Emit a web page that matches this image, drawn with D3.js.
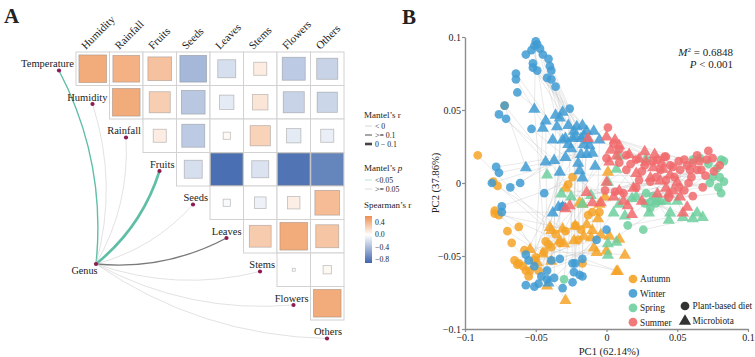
<!DOCTYPE html>
<html><head><meta charset="utf-8">
<script src="https://cdn.jsdelivr.net/npm/d3@7"></script>
<style>
body{margin:0;background:#fff}
svg{display:block}
text{font-family:"Liberation Serif","Times New Roman",serif;fill:#222}
</style>
</head><body>
<svg id="c" width="755" height="357"></svg>
<script>
// ---------------- DATA: panel A ----------------
const vars = ["Temperature","Humidity","Rainfall","Fruits","Seeds","Leaves","Stems","Flowers","Others"];
// Spearman's r, row i against columns i+1 .. 8
const corrTemperature = [0.45,0.42,0.33,-0.42,-0.19,0.10,-0.31,-0.26];
const corrHumidity    = [0.45,0.26,-0.33,-0.12,0.14,-0.26,-0.24];
const corrRainfall    = [0.10,-0.31,0.03,0.24,-0.12,-0.10];
const corrFruits      = [-0.19,-0.85,-0.17,-0.82,-0.72];
const corrSeeds       = [-0.03,-0.08,0.09,0.36];
const corrLeaves      = [0.28,0.45,0.31];
const corrStems       = [0.005,0.04];
const corrFlowers     = [0.45];
const corrRows = [corrTemperature,corrHumidity,corrRainfall,corrFruits,corrSeeds,corrLeaves,corrStems,corrFlowers];
// Mantel test classes for Genus -> each variable
const mantelRClass = ["mid","thin","thin","thick","thin","mid","thin","thin","thin"];
const mantelPClass = ["sig","ns","ns","sig","ns","dark","ns","ns","ns"];
const mantelRLabels = ["< 0",">= 0.1","0 \u2212 0.1"];
const mantelPLabels = ["<0.05",">= 0.05"];
const colorbarTicks = [0.4,0,-0.4,-0.8];

// ---------------- DATA: panel B ----------------
const seasons = ["Autumn","Winter","Spring","Summer"];
const shapes = ["Plant-based diet","Microbiota"];
const xTicksB = [-0.1,-0.05,0,0.05,0.1];
const yTicksB = [-0.1,-0.05,0,0.05,0.1];
const m2Value = "0.6848";
const pValue = "0.001";

const winterDiet = [[-0.050,0.097],[-0.051,0.094],[-0.049,0.095],[-0.053,0.091],[-0.047,0.092],[-0.057,0.088],[-0.045,0.088],[-0.041,0.085],[-0.052,0.082],[-0.052,0.079],[-0.040,0.080],[-0.039,0.077],[-0.049,0.077],[-0.042,0.072],[-0.039,0.071],[-0.036,0.066],[-0.064,0.075],[-0.064,0.071],[-0.063,0.062],[-0.072,0.053],[-0.076,0.047],[-0.071,0.044],[-0.053,0.037],[-0.026,0.051],[-0.078,0.011],[-0.076,0.007],[-0.081,0.000],[-0.068,-0.003],[-0.061,0.000],[-0.044,-0.007],[-0.074,-0.016],[-0.074,-0.020],[-0.031,-0.016],[-0.007,-0.039],[0.000,-0.032],[-0.057,-0.049],[-0.055,-0.053],[-0.051,-0.057],[-0.057,-0.070],[-0.051,-0.071],[-0.048,-0.069],[-0.046,-0.064],[-0.042,-0.060],[-0.042,-0.066],[-0.037,-0.065],[-0.039,-0.053],[-0.033,-0.052],[-0.024,-0.055],[-0.022,-0.055],[-0.019,-0.063],[-0.017,-0.064],[-0.017,-0.052],[-0.023,-0.061],[-0.031,-0.072],[-0.024,-0.068]];
const winterMicro = [[-0.051,0.051],[-0.043,0.043],[-0.036,0.047],[-0.031,0.049],[-0.033,0.045],[-0.027,0.040],[-0.023,0.036],[-0.021,0.039],[-0.017,0.040],[-0.014,0.036],[-0.022,0.032],[-0.018,0.031],[-0.013,0.030],[-0.016,0.027],[-0.024,0.031],[-0.029,0.031],[-0.031,0.030],[-0.038,0.030],[-0.035,0.039],[-0.057,0.011],[-0.037,0.016],[-0.043,0.015],[-0.029,0.018],[-0.025,0.024],[-0.018,0.020],[-0.014,0.020],[-0.010,0.021],[-0.012,0.026],[-0.009,0.036],[-0.019,0.009],[-0.017,0.004],[-0.038,-0.020],[-0.031,-0.016],[-0.005,0.030],[-0.041,-0.068],[-0.016,0.033],[-0.034,-0.016],[-0.045,0.038],[-0.027,0.027],[-0.020,0.014],[-0.008,0.012],[-0.033,0.008]];
const summerDiet = [[0.001,0.038],[0.041,0.018],[0.005,0.027],[0.009,0.023],[0.014,0.019],[0.021,0.016],[0.033,0.015],[0.042,0.018],[0.051,0.015],[0.057,0.012],[0.061,0.014],[0.066,0.015],[0.071,0.016],[0.075,0.017],[0.080,0.012],[0.067,0.009],[0.059,0.009],[0.052,0.009],[0.048,0.004],[0.042,0.002],[0.035,0.004],[0.031,0.001],[0.023,0.002],[0.021,-0.003],[0.051,-0.003],[0.055,-0.005],[0.061,-0.009],[0.068,-0.003],[0.064,0.009],[0.047,0.011],[0.014,0.009],[0.009,0.014],[0.000,0.017],[0.006,-0.006],[0.012,-0.007],[-0.001,-0.005],[0.072,0.022],[0.064,0.019],[0.027,0.012],[0.038,0.009],[0.045,0.012],[0.055,0.016],[0.060,0.004],[0.070,0.005],[0.076,0.008],[0.044,-0.010],[0.058,0.000],[0.036,0.016],[0.025,0.008],[0.017,0.013]];
const summerMicro = [[-0.013,0.031],[0.000,0.032],[0.006,0.030],[0.009,0.026],[0.003,0.023],[0.007,0.019],[0.016,0.020],[0.023,0.017],[0.028,0.015],[0.033,0.011],[0.039,0.014],[0.034,0.020],[0.021,0.007],[0.031,0.004],[0.038,0.002],[0.047,-0.005],[0.042,-0.003],[0.052,-0.009],[0.057,-0.016],[0.054,-0.020],[0.044,-0.007],[0.019,-0.003],[0.009,-0.005],[0.005,-0.009],[-0.004,-0.013],[-0.010,-0.013],[-0.014,-0.006],[-0.029,-0.017],[0.018,-0.021],[0.012,-0.012],[0.000,0.001],[0.002,0.015],[-0.026,-0.015],[0.027,0.022],[0.045,0.006],[0.050,0.001],[0.036,-0.007],[0.025,-0.012],[0.015,-0.015],[0.040,0.010]];
const springDiet = [[0.075,0.004],[0.080,0.004],[0.083,0.001],[0.073,0.000],[0.079,-0.003],[0.081,-0.007],[0.081,0.016],[0.083,0.015],[0.061,0.016],[0.066,0.017],[0.028,-0.007],[0.033,-0.009],[0.031,-0.013],[0.035,-0.014],[0.015,-0.029],[0.026,-0.032],[0.027,-0.014],[0.031,-0.017],[0.078,0.010],[0.072,0.013],[-0.030,-0.066]];
const springMicro = [[-0.042,0.006],[-0.032,-0.007],[-0.025,-0.009],[-0.017,-0.014],[0.001,0.001],[0.009,-0.014],[0.021,-0.009],[0.028,0.017],[0.038,-0.012],[0.042,-0.012],[0.045,-0.020],[0.044,-0.025],[0.054,-0.023],[0.061,-0.024],[0.064,-0.020],[0.068,-0.023],[0.009,0.019],[0.007,0.010],[0.001,-0.041],[-0.011,-0.008],[0.005,-0.020],[0.013,-0.022],[0.007,-0.040],[0.036,-0.012],[0.001,-0.049],[0.050,-0.012],[0.030,-0.020],[0.018,-0.010]];
const autumnDiet = [[-0.091,0.019],[-0.080,0.001],[-0.079,-0.019],[-0.079,-0.021],[-0.076,-0.022],[-0.070,-0.033],[-0.067,-0.041],[-0.062,-0.030],[-0.072,0.053],[-0.065,-0.053],[-0.062,-0.055],[-0.059,-0.057],[-0.057,-0.060],[-0.055,-0.064],[-0.051,-0.053],[-0.050,-0.051],[-0.048,-0.060],[-0.044,-0.047],[-0.039,-0.044],[-0.029,-0.033],[-0.018,-0.032],[-0.020,-0.039],[-0.013,-0.022],[-0.010,-0.020],[-0.005,-0.020],[-0.027,-0.001],[-0.024,0.004],[-0.043,-0.040],[-0.036,-0.035],[-0.033,-0.041],[-0.017,-0.055],[-0.063,-0.056],[-0.054,-0.060],[-0.041,-0.042],[-0.022,-0.029],[-0.058,-0.046],[-0.077,-0.002]];
const autumnMicro = [[-0.039,-0.032],[-0.033,-0.039],[-0.030,-0.041],[-0.031,-0.031],[-0.045,-0.048],[-0.039,-0.053],[-0.042,-0.070],[-0.029,-0.080],[-0.017,-0.014],[-0.006,-0.024],[-0.016,-0.036],[-0.011,-0.037],[-0.009,-0.044],[-0.007,-0.047],[0.000,-0.046],[0.002,-0.036],[0.009,-0.038],[0.013,-0.049],[0.007,-0.060],[-0.023,-0.039],[-0.040,-0.030],[-0.022,-0.029],[-0.014,-0.028],[-0.010,-0.032],[-0.004,-0.035],[-0.005,-0.014],[-0.001,-0.009],[-0.019,-0.013],[-0.029,-0.003],[0.001,0.008],[0.008,-0.060],[-0.054,-0.045],[-0.049,-0.054]];

// ---------------- STYLE ----------------
const seasonColor = {Autumn:"#f5a328",Winter:"#3f9bd2",Spring:"#6fcf9e",Summer:"#f16a6c"};
const rWidth = {thin:0.6, mid:1.4, thick:2.6};
const rKeyColor = {thin:"#bdbdbd", mid:"#808080", thick:"#444"};
const pColor = {sig:"#5fbea6", ns:"#cfcfcf", dark:"#7a7a7a"};
const font = '"Liberation Serif","Times New Roman",serif';

const svg = d3.select("#c");

// ================= PANEL A =================
const gA = svg.append("g");
const xA = d3.scaleLinear().domain([1,9]).range([76,344]);   // column index -> x
const yA = d3.scaleLinear().domain([0,8]).range([52,320]);   // row index -> y
const cell = xA(2)-xA(1);
const fill = d3.scaleLinear().domain([-0.9,0,0.6]).range(["#3f66ad","#ffffff","#ee8f4f"]).clamp(true);
const side = d3.scaleSqrt().domain([0,0.6]).range([0,32]).clamp(true);

const cells = [];
corrRows.forEach((row,i)=>row.forEach((r,k)=>cells.push({i, j:i+1+k, r})));
gA.append("g").selectAll("rect").data(cells).join("rect")
  .attr("x",d=>xA(d.j)).attr("y",d=>yA(d.i)).attr("width",cell).attr("height",cell)
  .attr("fill","#fff").attr("stroke","#d2d2d2").attr("stroke-width",1);
gA.append("g").selectAll("rect").data(cells).join("rect")
  .attr("x",d=>xA(d.j)+cell/2-side(Math.abs(d.r))/2)
  .attr("y",d=>yA(d.i)+cell/2-side(Math.abs(d.r))/2)
  .attr("width",d=>side(Math.abs(d.r))).attr("height",d=>side(Math.abs(d.r)))
  .attr("fill",d=>fill(d.r)).attr("stroke","#777").attr("stroke-opacity",0.45).attr("stroke-width",0.8);

gA.append("g").selectAll("text").data(vars.slice(1)).join("text")
  .attr("transform",(d,k)=>`translate(${xA(k+1)+cell/2-7},50) rotate(-45)`)
  .attr("font-size",11).text(d=>d);

const nodes = vars.map((v,i)=>({v, i, x:xA(i+1)-17, y:yA(i)+18.5}));
const genus = {x:96, y:264};

const linkPath = t => {
  const dx=t.x-genus.x, dy=t.y-genus.y, L=Math.hypot(dx,dy);
  const nx=-dy/L, ny=dx/L, k=0.15*L;
  const cx=(genus.x+t.x)/2+nx*k, cy=(genus.y+t.y)/2+ny*k;
  const p=d3.path(); p.moveTo(genus.x,genus.y); p.quadraticCurveTo(cx,cy,t.x,t.y); return p.toString();
};
gA.append("g").selectAll("path").data(nodes).join("path")
  .attr("d",linkPath).attr("fill","none")
  .attr("stroke",d=>pColor[mantelPClass[d.i]])
  .attr("stroke-width",d=>rWidth[mantelRClass[d.i]])
  .attr("stroke-linecap","round");

gA.append("g").selectAll("text").data(nodes).join("text")
  .attr("x",d=>xA(d.i+1)-2).attr("y",d=>yA(d.i)+15)
  .attr("text-anchor","end").attr("font-size",10.5).text(d=>d.v);
gA.append("g").selectAll("circle").data(nodes.concat([genus])).join("circle")
  .attr("cx",d=>d.x).attr("cy",d=>d.y).attr("r",2.1).attr("fill","#8e1a52");
gA.append("text").attr("x",97.5).attr("y",274).attr("text-anchor","end").attr("font-size",10.2).text("Genus");

// legend A
const lg = gA.append("g").attr("transform","translate(364,0)");
lg.append("text").attr("x",0).attr("y",118).attr("font-size",9).text("Mantel\u2019s r");
["thin","mid","thick"].forEach((c,k)=>{
  const y=126+k*9;
  lg.append("line").attr("x1",1).attr("x2",8).attr("y1",y).attr("y2",y).attr("stroke",rKeyColor[c]).attr("stroke-width",rWidth[c]);
  lg.append("text").attr("x",11).attr("y",y+2.8).attr("font-size",7.8).text(mantelRLabels[k]);
});
const tp = lg.append("text").attr("x",0).attr("y",171).attr("font-size",9).text("Mantel\u2019s ");
tp.append("tspan").attr("font-style","italic").text("p");
["sig","ns"].forEach((c,k)=>{
  const y=180+k*9;
  lg.append("line").attr("x1",1).attr("x2",8).attr("y1",y).attr("y2",y).attr("stroke",c==="sig"?"#a9d9ca":"#d3d3d3").attr("stroke-width",0.8);
  lg.append("text").attr("x",11).attr("y",y+2.8).attr("font-size",7.8).text(mantelPLabels[k]);
});
lg.append("text").attr("x",0).attr("y",208).attr("font-size",9).text("Spearman\u2019s r");
const cbScale = d3.scaleLinear().domain([-0.9,0.6]).range([263,216]);
const defs = svg.append("defs");
const grad = defs.append("linearGradient").attr("id","cb").attr("x1",0).attr("x2",0).attr("y1",1).attr("y2",0);
d3.range(0,1.0001,0.1).forEach(t=>{
  grad.append("stop").attr("offset",t).attr("stop-color",fill(-0.9+t*1.5));
});
lg.append("rect").attr("x",1).attr("y",cbScale(0.6)).attr("width",7).attr("height",cbScale(-0.9)-cbScale(0.6)).attr("fill","url(#cb)");
lg.selectAll(".cbt").data(colorbarTicks).join("text").attr("class","cbt")
  .attr("x",11).attr("y",d=>cbScale(d)+2.6).attr("font-size",7.8)
  .text(d=>d===0?"0.0":(d<0?"\u2212":"")+Math.abs(d).toFixed(1));

svg.append("text").attr("x",4).attr("y",23).attr("font-size",21).attr("font-weight","bold").text("A");

// ================= PANEL B =================
const gB = svg.append("g");
const xB = d3.scaleLinear().domain([-0.1,0.1]).range([465,748]);
const yB = d3.scaleLinear().domain([-0.1,0.1]).range([329,37]);
const fmt = d => d===0?"0":(d<0?"\u2212":"")+Math.abs(d);

const groups = [
  {s:"Autumn", diet:autumnDiet, micro:autumnMicro},
  {s:"Winter", diet:winterDiet, micro:winterMicro},
  {s:"Spring", diet:springDiet, micro:springMicro},
  {s:"Summer", diet:summerDiet, micro:summerMicro}
];
const links = [];
groups.forEach(g=>g.diet.forEach((p,i)=>links.push([p,g.micro[i%g.micro.length]])));
gB.append("g").selectAll("line").data(links).join("line")
  .attr("x1",d=>xB(d[0][0])).attr("y1",d=>yB(d[0][1]))
  .attr("x2",d=>xB(d[1][0])).attr("y2",d=>yB(d[1][1]))
  .attr("stroke","#c4c4c4").attr("stroke-opacity",0.7).attr("stroke-width",0.55);

const circ = d3.symbol().type(d3.symbolCircle).size(60);
const tri = d3.symbol().type(d3.symbolTriangle).size(64);
const pts = [];
groups.forEach(g=>{
  g.micro.forEach(p=>pts.push({s:g.s, t:"tri", p}));
  g.diet.forEach(p=>pts.push({s:g.s, t:"circ", p}));
});
gB.append("g").selectAll("path").data(pts).join("path")
  .attr("transform",d=>`translate(${xB(d.p[0])},${yB(d.p[1])+(d.t==="tri"?0.8:0)})`)
  .attr("d",d=>d.t==="tri"?tri():circ())
  .attr("fill",d=>seasonColor[d.s]).attr("fill-opacity",0.85);

const ax = gB.append("g").attr("transform","translate(0,329)")
  .call(d3.axisBottom(xB).tickValues(xTicksB).tickFormat(fmt).tickSize(3).tickSizeOuter(0).tickPadding(2));
const ay = gB.append("g").attr("transform","translate(465,0)")
  .call(d3.axisLeft(yB).tickValues(yTicksB).tickFormat(fmt).tickSize(3).tickSizeOuter(0).tickPadding(1));
[ax,ay].forEach(a=>{
  a.select(".domain").attr("stroke","#8c8c8c").attr("stroke-width",1.4);
  a.selectAll(".tick line").attr("stroke","#8c8c8c").attr("stroke-width",1.2);
  a.selectAll("text").attr("font-family",font).attr("font-size",10).attr("fill","#333");
});
gB.append("text").attr("x",609).attr("y",355).attr("text-anchor","middle").attr("font-size",10.6).text("PC1 (62.14%)");
gB.append("text").attr("transform","translate(439,183) rotate(-90)").attr("text-anchor","middle").attr("font-size",10.6).text("PC2 (37.86%)");

const m2 = gB.append("text").attr("x",733).attr("y",55.5).attr("text-anchor","end").attr("font-size",11);
m2.append("tspan").attr("font-style","italic").text("M");
m2.append("tspan").attr("dy",-4).attr("font-size",7).text("2");
m2.append("tspan").attr("dy",4).text(" = "+m2Value);
const pv = gB.append("text").attr("x",733).attr("y",67.5).attr("text-anchor","end").attr("font-size",11);
pv.append("tspan").attr("font-style","italic").text("P");
pv.append("tspan").text(" < "+pValue);

seasons.forEach((s,k)=>{
  const y=279+k*14.4;
  gB.append("path").attr("transform",`translate(633,${y})`).attr("d",circ()).attr("fill",seasonColor[s]).attr("fill-opacity",0.9);
  gB.append("text").attr("x",640).attr("y",y+3.3).attr("font-size",9.3).text(s);
});
shapes.forEach((s,k)=>{
  const y=306+k*14.5;
  gB.append("path").attr("transform",`translate(685,${y+(k?0.8:0)})`).attr("d",k?tri():circ()).attr("fill","#333");
  gB.append("text").attr("x",692.5).attr("y",y+3.3).attr("font-size",9.3).text(s);
});

svg.append("text").attr("x",402).attr("y",24).attr("font-size",21).attr("font-weight","bold").text("B");
</script>
</body></html>
